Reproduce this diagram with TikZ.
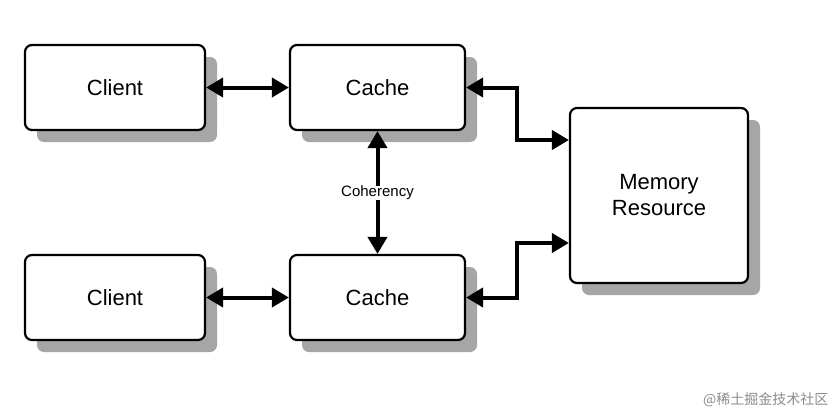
\documentclass[tikz,border=0pt]{standalone}
\usepackage{fontspec}
\setmainfont{Liberation Sans}
\newfontfamily\cjk{Noto Sans CJK SC}
\usetikzlibrary{arrows.meta}
\begin{document}
\begin{tikzpicture}[x=1pt,y=-1pt,
  box/.style={draw=black,line width=2.2pt,rounded corners=7pt,fill=white,font=\fontsize{22}{26}\selectfont,align=center,inner sep=0pt},
  shadow/.style={fill=black!35,rounded corners=7pt},
  arr/.style={line width=4pt,{Triangle[length=17pt,width=19pt]}-{Triangle[length=17pt,width=19pt]}},
  sarr/.style={line width=4pt,-{Triangle[length=17pt,width=19pt]}}]
\useasboundingbox (0,0) rectangle (840,416);
\fill[white] (0,0) rectangle (840,416);
\foreach \a/\b/\c/\d in {25/45/205/130,290/45/465/130,25/255/205/340,290/255/465/340,570/108/748/283}
  \fill[shadow] (\a+12,\b+12) rectangle (\c+12,\d+12);
\node[box,minimum width=180pt,minimum height=85pt] (c1) at (115,87.5) {Client};
\node[box,minimum width=175pt,minimum height=85pt] (k1) at (377.5,87.5) {Cache};
\node[box,minimum width=180pt,minimum height=85pt] (c2) at (115,297.5) {Client};
\node[box,minimum width=175pt,minimum height=85pt] (k2) at (377.5,297.5) {Cache};
\node[box,minimum width=178pt,minimum height=175pt] (m) at (659,195.5) {Memory\\Resource};
\draw[arr] (c1.east) -- (k1.west);
\draw[arr] (c2.east) -- (k2.west);
\draw[arr] (k1.east) -- (517,87.5) -- (517,140) -- (m.west |- 0,140);
\draw[arr] (k2.east) -- (517,297.5) -- (517,243) -- (m.west |- 0,243);
\node[fill=white,font=\fontsize{15}{18}\selectfont,inner sep=0pt] (coh) at (377.5,193) {Coherency};
\draw[sarr] (coh.north) -- (k1.south);
\draw[sarr] (coh.south) -- (k2.north);
\node[font=\cjk\fontsize{14}{16}\selectfont,text=black!45,anchor=east] (wm) at (832,400) {@稀土掘金技术社区};
\end{tikzpicture}
\end{document}
